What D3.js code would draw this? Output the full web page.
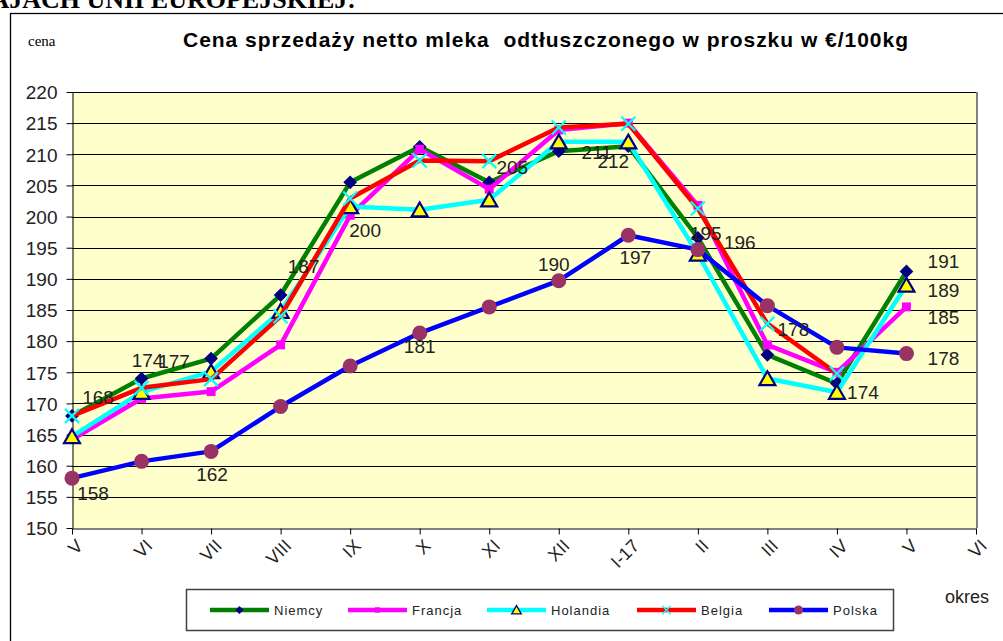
<!DOCTYPE html>
<html>
<head>
<meta charset="utf-8">
<script src="https://cdn.jsdelivr.net/npm/d3@7"></script>
<style>
  body { margin: 0; background: #fff; }
  svg { display: block; }
  text { font-family: Arial, "Liberation Sans", sans-serif; }
</style>
</head>
<body>
<svg width="1003" height="641"></svg>
<script>
// months on the x axis (the last one has no data)
const months = ['V', 'VI', 'VII', 'VIII', 'IX', 'X', 'XI', 'XII', 'I-17', 'II', 'III', 'IV', 'V', 'VI']

// prices in €/100kg
const niemcy   = [168, 174, 177.2, 187.4, 205.5, 211.2, 205.5, 210.5, 211.3, 196.6, 177.8, 173.2, 191.2, null]
const francja  = [164.2, 170.8, 171.9, 179.4, 200.2, 210.8, 204.4, 213.9, 215.0, 201.8, 179.4, 175.0, 185.5, null]
const holandia = [164.7, 171.8, 175.1, 184.8, 201.6, 201.1, 202.7, 212.0, 212.0, 194.0, 174.0, 171.8, 189.0, null]
const belgia   = [168.0, 172.5, 173.9, 184.0, 202.9, 209.0, 208.9, 214.3, 214.9, 201.3, 182.8, 174.8, null, null]
const polska   = [158, 160.7, 162.3, 169.5, 176.0, 181.3, 185.5, 189.7, 197.0, 194.7, 185.7, 179.0, 178.0, null]

const yTicks = d3.range(150, 221, 5)

// data labels as printed in the chart: series, month index, text
const labelTexts = [
  ['Niemcy', 0, '168'], ['Niemcy', 1, '174'], ['Niemcy', 2, '177'], ['Niemcy', 3, '187'],
  ['Francja', 4, '200'], ['Belgia', 6, '205'], ['Niemcy', 7, '211'], ['Holandia', 8, '212'],
  ['Polska', 0, '158'], ['Polska', 2, '162'], ['Polska', 5, '181'], ['Polska', 7, '190'],
  ['Polska', 8, '197'], ['Niemcy', 9, '195'], ['Niemcy', 9, '196'], ['Belgia', 10, '178'],
  ['Holandia', 11, '174'], ['Niemcy', 12, '191'], ['Holandia', 12, '189'], ['Francja', 12, '185'],
  ['Polska', 12, '178']
]

// where each label sits relative to its point (layout only)
const labelOffsets = [
  [26, -12], [6, -12], [-37, 9], [23, -22],
  [15, 22], [23, 13], [38, 8], [-15, 26],
  [21, 22], [1, 30], [0, 20], [-5, -10],
  [7, 29], [8, 2], [42, 11], [26, 12],
  [26, 7], [37, -3], [37, 12], [37, 17],
  [37, 11]
]

const series = [
  { name: 'Niemcy', values: niemcy, color: '#008000', marker: 'diamond' },
  { name: 'Francja', values: francja, color: '#ff00ff', marker: 'square' },
  { name: 'Holandia', values: holandia, color: '#00ffff', marker: 'triangle' },
  { name: 'Belgia', values: belgia, color: '#ff0000', marker: 'cross' },
  { name: 'Polska', values: polska, color: '#0000ff', marker: 'circle' },
]

const svg = d3.select('svg')

// cropped heading of the page above the chart
svg.append('text')
  .attr('x', 356).attr('y', 8)
  .attr('text-anchor', 'end')
  .style('font-family', '"Liberation Serif", "Times New Roman", serif')
  .style('font-weight', 'bold')
  .style('font-size', '26px')
  .text('W KRAJACH UNII EUROPEJSKIEJ:')

// outer frame
svg.append('rect')
  .attr('x', 10.5).attr('y', 13.5)
  .attr('width', 1010).attr('height', 640)
  .attr('fill', 'none').attr('stroke', '#000').attr('stroke-width', 1.3)

const plot = { left: 72, right: 976, top: 92, bottom: 528 }

const x = d3.scalePoint()
  .domain(d3.range(months.length))
  .range([plot.left, plot.right])

const y = d3.scaleLinear()
  .domain([150, 220])
  .range([plot.bottom, plot.top])

// plot background
svg.append('rect')
  .attr('x', plot.left).attr('y', plot.top)
  .attr('width', plot.right - plot.left).attr('height', plot.bottom - plot.top)
  .attr('fill', '#ffffcc')

// gridlines
svg.append('g')
  .selectAll('line')
  .data(yTicks.filter(t => t > 150))
  .join('line')
  .attr('x1', plot.left).attr('x2', plot.right)
  .attr('y1', d => Math.round(y(d)) + 0.5).attr('y2', d => Math.round(y(d)) + 0.5)
  .attr('stroke', '#000').attr('stroke-width', 1)

// right edge of the plot area
svg.append('line')
  .attr('x1', plot.right + 1).attr('x2', plot.right + 1)
  .attr('y1', plot.top).attr('y2', plot.bottom)
  .attr('stroke', '#808080').attr('stroke-width', 2)

// y axis
const yAxis = svg.append('g')
  .attr('transform', `translate(${plot.left + 0.5},0)`)
  .call(d3.axisLeft(y).tickValues(yTicks).tickSize(6).tickSizeOuter(0).tickPadding(9))
yAxis.select('.domain').attr('stroke', '#000')
yAxis.selectAll('.tick line').attr('stroke', '#000')
yAxis.selectAll('.tick text')
  .style('font-size', '19px').attr('fill', '#222')
  .attr('dy', '0.36em')

// x axis
const xAxis = svg.append('g')
  .attr('transform', `translate(0,${plot.bottom + 0.5})`)
  .call(d3.axisBottom(x).tickFormat(i => months[i]).tickSize(6).tickSizeOuter(0))
xAxis.select('.domain').attr('stroke', '#000')
xAxis.selectAll('.tick line').attr('stroke', '#000')
xAxis.selectAll('.tick text')
  .style('font-size', '18px').attr('fill', '#222')
  .attr('text-anchor', 'end')
  .attr('transform', 'translate(7,14) rotate(-45)')
  .attr('dy', '0.35em').attr('y', 0)

// lines and markers
const line = d3.line()
  .defined(d => d != null)
  .x((d, i) => x(i))
  .y(d => y(d))

function drawMarker(g, kind, size) {
  const k = size || 1
  if (kind === 'diamond') {
    g.append('path').attr('d', d3.symbol(d3.symbolDiamond2, 120 * k * k)()).attr('fill', '#000080')
  } else if (kind === 'square') {
    g.append('path').attr('d', d3.symbol(d3.symbolSquare, 80 * k * k)()).attr('fill', '#ff00ff')
  } else if (kind === 'triangle') {
    g.append('path').attr('d', d3.symbol(d3.symbolTriangle, 110 * k * k)())
      .attr('transform', `translate(0,${2 * k})`)
      .attr('fill', '#ffff00').attr('stroke', '#000080').attr('stroke-width', 2.2 * k)
  } else if (kind === 'cross') {
    const r = 7 * k
    g.append('path').attr('d', `M${-r},${-r}L${r},${r}M${-r},${r}L${r},${-r}`)
      .attr('stroke', '#00ffff').attr('stroke-width', 2.2 * k)
  } else if (kind === 'circle') {
    g.append('circle').attr('r', 7.5 * k).attr('fill', '#993366')
  }
}

series.forEach(s => {
  const g = svg.append('g')
  g.append('path')
    .datum(s.values)
    .attr('d', line)
    .attr('fill', 'none')
    .attr('stroke', s.color)
    .attr('stroke-width', 4.5)
    .attr('stroke-linejoin', 'round')
  s.values.forEach((v, i) => {
    if (v == null) return
    const m = g.append('g').attr('transform', `translate(${x(i)},${y(v)})`)
    drawMarker(m, s.marker)
  })
})

// data labels
const seriesByName = {}
series.forEach(s => seriesByName[s.name] = s)
svg.append('g')
  .selectAll('text')
  .data(labelTexts)
  .join('text')
  .attr('x', (d, k) => x(d[1]) + labelOffsets[k][0])
  .attr('y', (d, k) => y(seriesByName[d[0]].values[d[1]]) + labelOffsets[k][1])
  .attr('text-anchor', 'middle')
  .style('font-size', '19px')
  .attr('fill', '#222')
  .text(d => d[2])

// title and axis captions
svg.append('text')
  .attr('x', 183).attr('y', 47)
  .attr('textLength', 725).attr('lengthAdjust', 'spacing')
  .style('white-space', 'pre')
  .style('font-size', '21px').style('font-weight', 'bold')
  .text('Cena sprzedaży netto mleka  odtłuszczonego w proszku w €/100kg')

svg.append('text')
  .attr('x', 28).attr('y', 46)
  .style('font-family', '"Liberation Serif", "Times New Roman", serif')
  .style('font-size', '15px')
  .text('cena')

svg.append('text')
  .attr('x', 945).attr('y', 603)
  .style('font-size', '18px').attr('fill', '#222')
  .text('okres')

// legend
const legend = svg.append('g')
legend.append('rect')
  .attr('x', 186.5).attr('y', 589.5)
  .attr('width', 707).attr('height', 41)
  .attr('fill', '#fff').attr('stroke', '#404040').attr('stroke-width', 1.5)

const legendX = [210, 348, 487, 637, 769]
series.forEach((s, i) => {
  const lx = legendX[i]
  const item = legend.append('g').attr('transform', `translate(${lx},610)`)
  item.append('line')
    .attr('x1', 0).attr('x2', 59)
    .attr('stroke', s.color).attr('stroke-width', 4.5)
  const m = item.append('g').attr('transform', 'translate(29.5,0)')
  drawMarker(m, s.marker, 0.6)
  item.append('text')
    .attr('x', 64).attr('y', 5)
    .style('font-size', '13px')
    .style('letter-spacing', '1px')
    .attr('fill', '#222')
    .text(s.name)
})
</script>
</body>
</html>
